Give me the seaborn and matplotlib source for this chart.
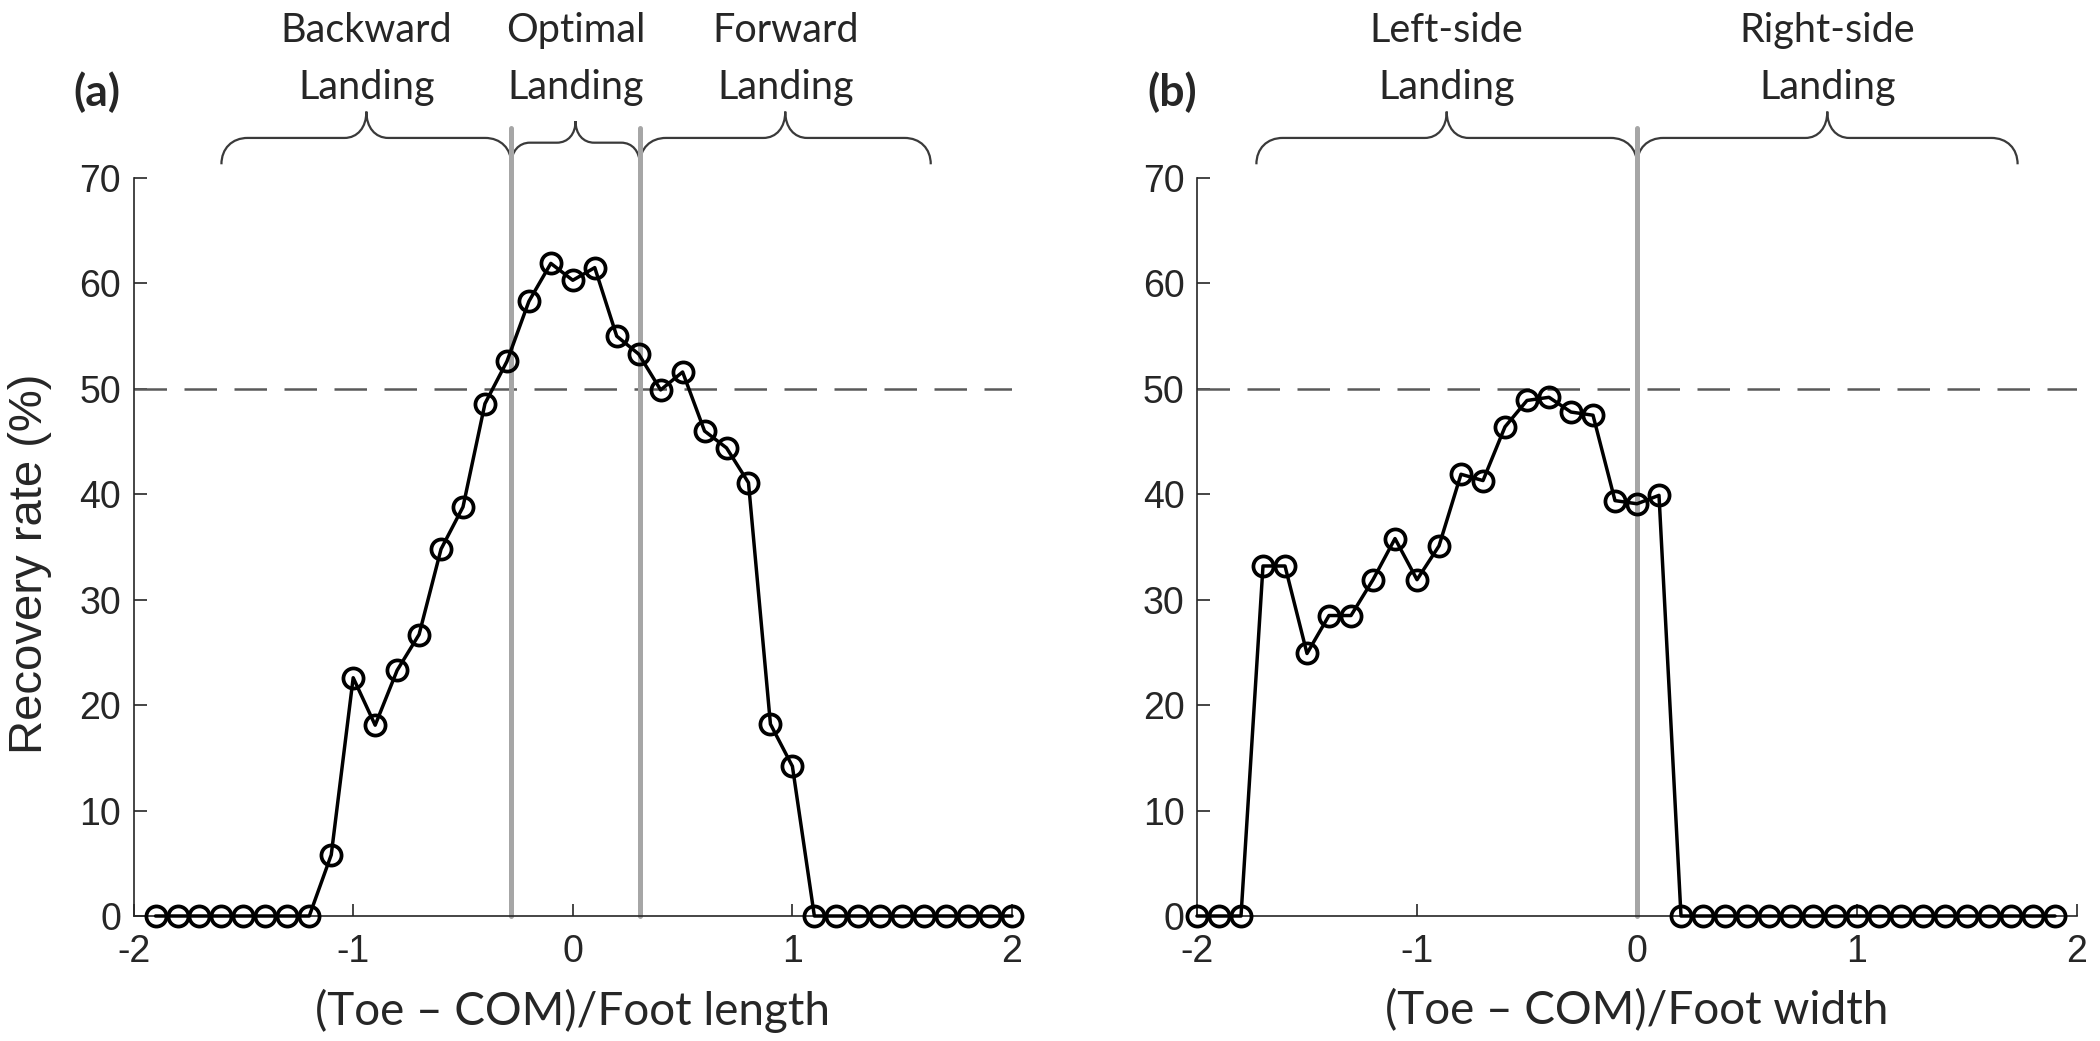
import seaborn as sns
import matplotlib.pyplot as plt
import pandas as pd
from matplotlib.path import Path
from matplotlib.patches import PathPatch

sns.set_style("ticks")
plt.rcParams["font.family"] = ["Liberation Sans", "DejaVu Sans"]
plt.rcParams["axes.unicode_minus"] = False
label_font = ["Lato", "DejaVu Sans"]

# (a) toe - COM normalised by foot length
x_length = [-1.9, -1.8, -1.7, -1.6, -1.5, -1.4, -1.3, -1.2, -1.1, -1.0,
            -0.9, -0.8, -0.7, -0.6, -0.5, -0.4, -0.3, -0.2, -0.1, 0.0,
            0.1, 0.2, 0.3, 0.4, 0.5, 0.6, 0.7, 0.8, 0.9, 1.0,
            1.1, 1.2, 1.3, 1.4, 1.5, 1.6, 1.7, 1.8, 1.9, 2.0]
rate_length = [0, 0, 0, 0, 0, 0, 0, 0, 5.8, 22.6,
               18.1, 23.3, 26.7, 34.8, 38.8, 48.6, 52.6, 58.3, 61.9, 60.3,
               61.5, 55.0, 53.3, 49.9, 51.6, 46.0, 44.4, 41.1, 18.2, 14.2,
               0, 0, 0, 0, 0, 0, 0, 0, 0, 0]

# (b) toe - COM normalised by foot width
x_width = [-2.0, -1.9, -1.8, -1.7, -1.6, -1.5, -1.4, -1.3, -1.2, -1.1,
           -1.0, -0.9, -0.8, -0.7, -0.6, -0.5, -0.4, -0.3, -0.2, -0.1,
           0.0, 0.1, 0.2, 0.3, 0.4, 0.5, 0.6, 0.7, 0.8, 0.9,
           1.0, 1.1, 1.2, 1.3, 1.4, 1.5, 1.6, 1.7, 1.8, 1.9]
rate_width = [0, 0, 0, 33.2, 33.2, 24.9, 28.5, 28.5, 31.9, 35.8,
              31.9, 35.1, 41.9, 41.3, 46.4, 48.9, 49.2, 47.8, 47.5, 39.4,
              39.1, 39.9, 0, 0, 0, 0, 0, 0, 0, 0,
              0, 0, 0, 0, 0, 0, 0, 0, 0, 0]

# landing regions: (start, end, label top, label bottom)
regions_a = [(-1.60, -0.28, "Backward", "Landing"),
             (-0.28, 0.305, "Optimal", "Landing"),
             (0.305, 1.63, "Forward", "Landing")]
bounds_a = [-0.28, 0.305]
regions_b = [(-1.73, 0.0, "Left-side", "Landing"),
             (0.0, 1.73, "Right-side", "Landing")]
bounds_b = [0.0]


def brace(ax, x0, x1, y_end, y_mid, y_tip, hook, tip):
    xm = (x0 + x1) / 2
    dy = y_mid - y_end
    dt = y_tip - y_mid
    verts = [(x0, y_end),
             (x0, y_end + 0.6 * dy), (x0 + 0.4 * hook, y_mid), (x0 + hook, y_mid),
             (xm - tip, y_mid),
             (xm - 0.4 * tip, y_mid), (xm, y_mid + 0.4 * dt), (xm, y_tip),
             (xm, y_mid + 0.4 * dt), (xm + 0.4 * tip, y_mid), (xm + tip, y_mid),
             (x1 - hook, y_mid),
             (x1 - 0.4 * hook, y_mid), (x1, y_end + 0.6 * dy), (x1, y_end)]
    codes = [Path.MOVETO] + [Path.CURVE4] * 3 + [Path.LINETO] + [Path.CURVE4] * 6 \
        + [Path.LINETO] + [Path.CURVE4] * 3
    ax.add_patch(PathPatch(Path(verts, codes), fill=False, edgecolor="#3a3a3a",
                           lw=1.6, clip_on=False))


def draw_panel(ax, x, y, bounds, regions, xlabel, small_first=False):
    df = pd.DataFrame({"x": x, "rate": y})
    sns.lineplot(x="x", y="rate", data=df, ax=ax, color="black",
                 marker="o", markerfacecolor="none", markeredgecolor="black",
                 clip_on=False, zorder=3)
    line = ax.lines[-1]
    line.set_linewidth(2.5)
    line.set_markersize(14.5)
    line.set_markeredgewidth(2.7)
    line.set_markerfacecolor("none")

    ax.axhline(50, color="#5a5a5a", lw=1.8, dashes=(13, 7), zorder=1)
    for b in bounds:
        ax.plot([b, b], [0, 74.7], color="#a6a6a6", lw=3.6, clip_on=False, zorder=2)

    for i, (x0, x1, t1, t2) in enumerate(regions):
        xm = (x0 + x1) / 2
        if small_first and i == 1:
            brace(ax, x0, x1, 71.3, 73.35, 75.4, 0.085, 0.085)
        else:
            brace(ax, x0, x1, 71.3, 73.8, 76.3, 0.12, 0.10)
        ax.text(xm, 82.9, t1, ha="center", va="baseline", fontsize=28.5,
                family=label_font, clip_on=False)
        ax.text(xm, 77.5, t2, ha="center", va="baseline", fontsize=28.5,
                family=label_font, clip_on=False)

    ax.set_xlim(-2, 2)
    ax.set_ylim(0, 70)
    ax.set_xticks([-2, -1, 0, 1, 2])
    ax.set_yticks(range(0, 71, 10))
    ax.tick_params(direction="in", length=9, width=1.2, labelsize=27)
    ax.tick_params(axis="x", pad=13)
    ax.tick_params(axis="y", pad=9)
    sns.despine(ax=ax)
    for s in ["left", "bottom"]:
        ax.spines[s].set_linewidth(1.2)
    ax.set_xlabel(xlabel, fontsize=33, family=label_font)
    ax.xaxis.set_label_coords(0.5, -0.099)
    ax.set_ylabel("")


fig = plt.figure(figsize=(21, 10.41), dpi=100)
ax1 = fig.add_axes([133.6 / 2100, 1 - 916 / 1041, 878.4 / 2100, 738 / 1041])
ax2 = fig.add_axes([1197 / 2100, 1 - 916 / 1041, 880 / 2100, 738 / 1041])

draw_panel(ax1, x_length, rate_length, bounds_a, regions_a,
           "(Toe \u2013 COM)/Foot length", small_first=True)
draw_panel(ax2, x_width, rate_width, bounds_b, regions_b,
           "(Toe \u2013 COM)/Foot width")

ax1.set_ylabel("Recovery rate (%)", fontsize=34)
ax1.yaxis.set_label_coords(-0.093, 0.477)

fig.text(97 / 2100, 1 - 92 / 1041, "(a)", ha="center", va="center",
         fontsize=32, weight="bold", family=label_font)
fig.text(1172 / 2100, 1 - 92 / 1041, "(b)", ha="center", va="center",
         fontsize=32, weight="bold", family=label_font)

plt.savefig("out.png", dpi=100)
